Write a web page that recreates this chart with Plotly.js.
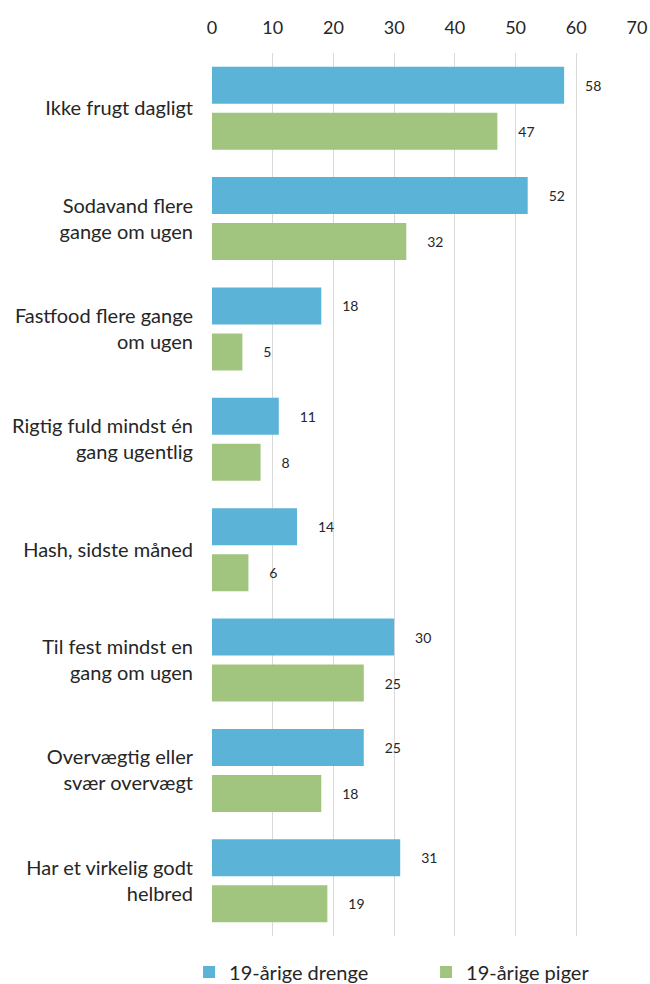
<!DOCTYPE html>
<html><head><meta charset="utf-8">
<script src="https://cdn.plot.ly/plotly-3.0.1.min.js"></script>
<style>html,body{margin:0;padding:0;background:#fff}#c{width:650px;height:984px}</style>
</head><body><div id="c"></div>
<script>
const categories = [
  "Ikke frugt dagligt",
  "Sodavand flere<br>gange om ugen",
  "Fastfood flere gange<br>om ugen",
  "Rigtig fuld mindst én<br>gang ugentlig",
  "Hash, sidste måned",
  "Til fest mindst en<br>gang om ugen",
  "Overvægtig eller<br>svær overvægt",
  "Har et virkelig godt<br>helbred"
];
const seriesNames = ["19-årige drenge", "19-årige piger"];
const drenge = [58, 52, 18, 11, 14, 30, 25, 31];
const piger = [47, 32, 5, 8, 6, 25, 18, 19];
const xTicks = [0, 10, 20, 30, 40, 50, 60, 70];

const font = "Lato, 'Open Sans', sans-serif";
const textColor = "#262626";
const colors = ["#5bb4d8", "#a1c57f"];

const traces = [drenge, piger].map((vals, i) => ({
  type: "bar", orientation: "h",
  name: seriesNames[i],
  x: vals, y: categories,
  marker: {color: colors[i]},
  textposition: "outside",
  texttemplate: "     %{x}",
  textfont: {family: font, size: 14, color: textColor},
  cliponaxis: false,
  hoverinfo: "none"
}));

const layout = {
  width: 650, height: 984,
  margin: {l: 212, r: 13, t: 53, b: 48, autoexpand: false},
  paper_bgcolor: "#fff", plot_bgcolor: "#fff",
  barmode: "group", bargap: 0.166, bargroupgap: 0.196,
  font: {family: font, size: 20, color: textColor},
  xaxis: {
    side: "top", range: [0, 70], tickvals: xTicks,
    showgrid: true, gridcolor: "#d9d9d9", gridwidth: 1,
    zeroline: false, showline: false, ticks: "",
    ticklabelstandoff: 14,
    tickfont: {family: font, size: 18, color: textColor}
  },
  yaxis: {
    autorange: "reversed", showgrid: false, zeroline: false, showline: false,
    ticks: "", ticklabelstandoff: 18,
    tickfont: {family: font, size: 20, color: textColor}
  },
  showlegend: true,
  legend: {
    orientation: "h", x: -0.054, xanchor: "left", y: -0.0408, yanchor: "middle",
    entrywidth: 192, entrywidthmode: "pixels",
    font: {family: font, size: 20, color: textColor},
    itemwidth: 30, traceorder: "normal"
  }
};

Plotly.newPlot("c", traces, layout, {displayModeBar: false, staticPlot: true});
</script>
</body></html>
